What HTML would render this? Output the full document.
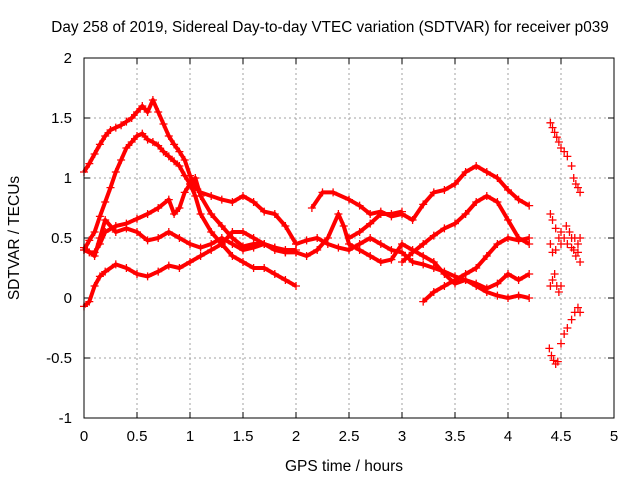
<!DOCTYPE html>
<html><head><meta charset="utf-8"><style>
body{margin:0;background:#fff;}
svg{display:block;font-family:"Liberation Sans",sans-serif;}
</style></head><body>
<svg id="chart" width="640" height="480">
<text x="330" y="32" font-size="15.3" text-anchor="middle">Day 258 of 2019, Sidereal Day-to-day VTEC variation (SDTVAR) for receiver p039</text>
<text x="0" y="0" font-size="15.5" text-anchor="middle" transform="translate(19,238) rotate(-90)">SDTVAR / TECUs</text>
<text x="344" y="471" font-size="15.5" text-anchor="middle">GPS time / hours</text>
<g id="grid"></g><g id="ticks"></g><g id="marks"></g>
<rect x="84" y="58" width="530" height="360" fill="none" stroke="#000" stroke-width="1"/>
</svg>
<script>
const xTicks=[0,0.5,1,1.5,2,2.5,3,3.5,4,4.5,5];
const xTickLabels=["0","0.5","1","1.5","2","2.5","3","3.5","4","4.5","5"];
const yTicks=[-1,-0.5,0,0.5,1,1.5,2];
const yTickLabels=["-1","-0.5","0","0.5","1","1.5","2"];
const sA_t=[0,0.05,0.1,0.15,0.2,0.25,0.3,0.35,0.4,0.45,0.5,0.55,0.6,0.65,0.7,0.75,0.8,0.85,0.9,0.95,1.0,1.05,1.1,1.2,1.3,1.4,1.5,1.6,1.7,1.8,1.9,2.0];
const sA_v=[1.05,1.12,1.2,1.28,1.35,1.4,1.42,1.44,1.47,1.5,1.55,1.6,1.55,1.65,1.55,1.45,1.35,1.28,1.22,1.15,1.02,0.92,0.88,0.85,0.82,0.8,0.85,0.8,0.72,0.7,0.6,0.45];
const sB_t=[0,0.05,0.1,0.15,0.2,0.25,0.3,0.35,0.4,0.45,0.5,0.55,0.6,0.65,0.7,0.75,0.8,0.85,0.9,0.95,1.0,1.05,1.1,1.2,1.3,1.4,1.5,1.6,1.7,1.8,1.9,2.0];
const sB_v=[0.4,0.48,0.55,0.68,0.8,0.92,1.05,1.15,1.25,1.3,1.35,1.37,1.32,1.3,1.27,1.22,1.18,1.14,1.1,1.02,0.95,0.85,0.7,0.55,0.45,0.35,0.3,0.25,0.25,0.2,0.15,0.1];
const sC_t=[0,0.05,0.1,0.15,0.2,0.3,0.4,0.5,0.6,0.7,0.8,0.85,0.9,0.95,1.0,1.05,1.1,1.2,1.3,1.4,1.5,1.6,1.7,1.8,1.9,2.0];
const sC_v=[0.4,0.38,0.38,0.45,0.55,0.6,0.62,0.66,0.7,0.75,0.82,0.7,0.75,0.88,0.95,1.0,0.85,0.7,0.6,0.5,0.43,0.45,0.45,0.42,0.4,0.4];
const sD_t=[0,0.1,0.15,0.2,0.3,0.4,0.5,0.6,0.7,0.8,0.9,1.0,1.1,1.2,1.3,1.4,1.5,1.6,1.7,1.8,1.9,2.0];
const sD_v=[0.42,0.35,0.5,0.65,0.55,0.58,0.55,0.48,0.5,0.55,0.5,0.45,0.42,0.45,0.5,0.45,0.4,0.42,0.45,0.42,0.38,0.38];
const sE_t=[0,0.05,0.1,0.15,0.2,0.3,0.4,0.5,0.6,0.7,0.8,0.9,1.0,1.1,1.2,1.3,1.4,1.5,1.6,1.7,1.8,1.9];
const sE_v=[-0.07,-0.03,0.1,0.18,0.22,0.28,0.25,0.2,0.18,0.22,0.27,0.25,0.3,0.35,0.4,0.45,0.55,0.55,0.5,0.45,0.4,0.38];
const sF_t=[2.15,2.25,2.35,2.5,2.6,2.7,2.8,2.9,3.0,3.1,3.2,3.3,3.4,3.5,3.6,3.7,3.8,3.9,4.0,4.1,4.2];
const sF_v=[0.75,0.88,0.88,0.82,0.77,0.7,0.72,0.68,0.7,0.65,0.78,0.88,0.9,0.95,1.05,1.1,1.05,1.0,0.9,0.82,0.77];
const sG_t=[3.0,3.1,3.2,3.3,3.4,3.5,3.6,3.7,3.8,3.9,4.0,4.1,4.2];
const sG_v=[0.3,0.38,0.45,0.52,0.58,0.62,0.7,0.8,0.85,0.8,0.65,0.5,0.45];
const sH_t=[3.2,3.3,3.4,3.5,3.6,3.7,3.8,3.9,4.0,4.1,4.2];
const sH_v=[-0.03,0.05,0.1,0.15,0.2,0.25,0.35,0.45,0.5,0.48,0.5];
const sI_t=[2.0,2.1,2.2,2.3,2.4,2.5,2.6,2.7,2.8,2.9,3.0,3.1,3.2,3.3,3.4,3.5,3.6,3.7,3.8,3.9,4.0,4.1,4.2];
const sI_v=[0.45,0.48,0.5,0.45,0.42,0.4,0.45,0.5,0.45,0.4,0.38,0.3,0.28,0.25,0.22,0.18,0.15,0.1,0.05,0.02,0.0,0.02,0.0];
const sJ_t=[2.0,2.1,2.2,2.3,2.4,2.45,2.5,2.6,2.7,2.8,2.9,3.0,3.1,3.2,3.3,3.4,3.5,3.6,3.7,3.8,3.9,4.0,4.1,4.2];
const sJ_v=[0.38,0.35,0.4,0.5,0.7,0.6,0.45,0.4,0.35,0.3,0.32,0.45,0.4,0.35,0.3,0.2,0.12,0.15,0.12,0.08,0.12,0.2,0.15,0.2];
const sK_t=[2.5,2.6,2.7,2.8,2.9,3.0];
const sK_v=[0.5,0.55,0.62,0.7,0.7,0.72];
const r1_t=[4.4,4.42,4.44,4.46,4.48,4.5,4.53,4.56,4.6,4.62,4.64,4.66,4.68];
const r1_v=[1.46,1.42,1.38,1.34,1.3,1.25,1.22,1.18,1.1,1.0,0.95,0.92,0.88];
const r3_t=[4.4,4.42,4.45,4.48,4.5,4.53,4.56,4.6,4.63,4.66,4.68];
const r3_v=[0.7,0.65,0.58,0.5,0.45,0.5,0.45,0.42,0.5,0.45,0.5];
const r4_t=[4.4,4.42,4.45,4.5,4.55,4.58,4.6,4.62,4.64,4.66,4.68];
const r4_v=[0.45,0.38,0.4,0.55,0.6,0.55,0.5,0.4,0.35,0.38,0.3];
const r5_t=[4.4,4.42,4.44,4.46,4.48,4.5];
const r5_v=[0.1,0.15,0.2,0.1,0.05,0.1];
const r6_t=[4.5,4.53,4.56,4.6,4.63,4.66,4.68];
const r6_v=[-0.38,-0.3,-0.25,-0.18,-0.12,-0.08,-0.12];
const r7_t=[4.39,4.41,4.43,4.45,4.47];
const r7_v=[-0.42,-0.48,-0.52,-0.55,-0.53];

const NS='http://www.w3.org/2000/svg';
const X0=84,X1=614,Y0=418,Y1=58;
function xs(t){return X0+(t-0)/(5-0)*(X1-X0);}
function ys(v){return Y0-(v-(-1))/(2-(-1))*(Y0-Y1);}
function mk(tag,attrs,parent){const e=document.createElementNS(NS,tag);for(const k in attrs)e.setAttribute(k,attrs[k]);parent.appendChild(e);return e;}
const grid=document.getElementById('grid'),ticks=document.getElementById('ticks'),marks=document.getElementById('marks');
xTicks.forEach((t,i)=>{
  const x=xs(t);
  if(i>0&&i<xTicks.length-1){const g=mk('line',{x1:x,x2:x,y1:Y1,y2:Y0,stroke:'#a0a0a0','stroke-dasharray':'2,3'},grid);
  
  }
  mk('line',{x1:x,x2:x,y1:Y0,y2:Y0-6,stroke:'#000'},ticks);
  mk('line',{x1:x,x2:x,y1:Y1,y2:Y1+6,stroke:'#000'},ticks);
  const l=mk('text',{x:x,y:Y0+23,'font-size':15,'text-anchor':'middle'},ticks);l.textContent=xTickLabels[i];
  
  
});
yTicks.forEach((v,i)=>{
  const y=ys(v);
  if(i>0&&i<yTicks.length-1){const g=mk('line',{x1:X0,x2:X1,y1:y,y2:y,stroke:'#a0a0a0','stroke-dasharray':'2,3'},grid);
  
  }
  mk('line',{x1:X0,x2:X0+6,y1:y,y2:y,stroke:'#000'},ticks);
  mk('line',{x1:X1,x2:X1-6,y1:y,y2:y,stroke:'#000'},ticks);
  const l=mk('text',{x:X0-12,y:y+5,'font-size':15,'text-anchor':'end'},ticks);l.textContent=yTickLabels[i];
  
  
});
const series=[[sA_t,sA_v,1],[sB_t,sB_v,1],[sC_t,sC_v,1],[sD_t,sD_v,1],[sE_t,sE_v,1],[sF_t,sF_v,1],[sG_t,sG_v,1],[sH_t,sH_v,1],[sI_t,sI_v,1],[sJ_t,sJ_v,1],[sK_t,sK_v,1],[r1_t,r1_v,0],[r3_t,r3_v,0],[r4_t,r4_v,0],[r5_t,r5_v,0],[r6_t,r6_v,0],[r7_t,r7_v,0]];
series.forEach(([T,V,line])=>{
  const g=mk('g',{},marks);
  
  
  if(line){const p=mk('polyline',{points:T.map((t,i)=>xs(t)+','+ys(V[i])).join(' '),fill:'none',stroke:'#f00','stroke-width':4,'stroke-linejoin':'round'},g);
  
  }
  T.forEach((t,i)=>{
    const x=xs(t),y=ys(V[i]);
    const m=mk('path',{d:`M${x-4},${y}h8M${x},${y-4}v8`,stroke:'#f00','stroke-width':1.3},g);
    
    
  });
});
</script>
</body></html>
